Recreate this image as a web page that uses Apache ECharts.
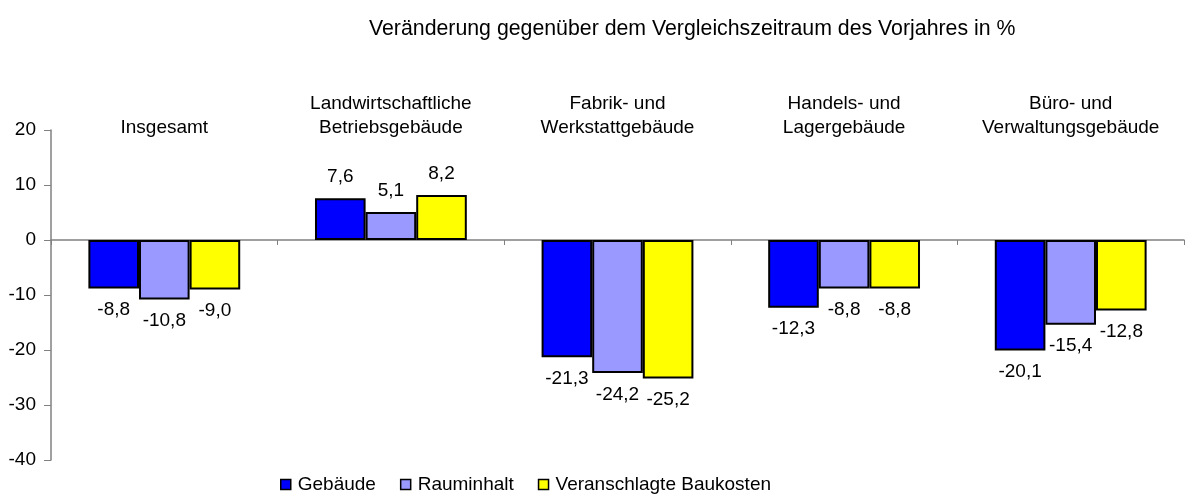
<!DOCTYPE html>
<html>
<head>
<meta charset="utf-8">
<script src="https://cdn.jsdelivr.net/npm/echarts@6/dist/echarts.min.js"></script>
<style>
  html, body { margin: 0; padding: 0; background: #fff; }
  #chart { width: 1186px; height: 496px; }
</style>
</head>
<body>
<div id="chart"></div>
<script>
// Kategorien (oben beschriftet)
const categories = [
  'Insgesamt',
  'Landwirtschaftliche\nBetriebsgebäude',
  'Fabrik- und\nWerkstattgebäude',
  'Handels- und\nLagergebäude',
  'Büro- und\nVerwaltungsgebäude'
];
const seriesNames = ['Gebäude', 'Rauminhalt', 'Veranschlagte Baukosten'];
const gebaeude = [-8.8, 7.6, -21.3, -12.3, -20.1];
const rauminhalt = [-10.8, 5.1, -24.2, -8.8, -15.4];
const baukosten = [-9.0, 8.2, -25.2, -8.8, -12.8];
const yTicks = [-40, -30, -20, -10, 0, 10, 20];

const font = 'Liberation Sans, Arial, sans-serif';
const colors = ['#0000ff', '#9999ff', '#ffff00'];

const chart = echarts.init(document.getElementById('chart'));

function makeSeries(name, data, color) {
  return {
    name: name,
    type: 'bar',
    xAxisIndex: 0,
    data: data,
    barGap: '0%',
    barCategoryGap: '33%',
    itemStyle: {
      color: color,
      borderColor: '#000',
      borderWidth: 2
    },
    label: {
      show: true,
      position: 'outside',
      distance: 12,
      fontFamily: font,
      fontSize: 19,
      color: '#000',
      formatter: function (p) {
        return p.value.toFixed(1).replace('.', ',');
      }
    }
  };
}

const option = {
  animation: false,
  backgroundColor: '#fff',
  title: {
    text: 'Veränderung gegenüber dem Vergleichszeitraum des Vorjahres in %',
    left: 364,
    top: 14,
    textStyle: {
      fontFamily: font,
      fontSize: 21.3,
      fontWeight: 'normal',
      color: '#000'
    }
  },
  legend: {
    data: seriesNames,
    left: 275,
    top: 470,
    itemWidth: 10,
    itemHeight: 10,
    itemGap: 24,
    icon: 'rect',
    itemStyle: { borderColor: '#000', borderWidth: 1.5 },
    textStyle: { fontFamily: font, fontSize: 19, color: '#000', padding: [0, 0, 0, 2] }
  },
  grid: {
    left: 51,
    right: 2,
    top: 130,
    bottom: 36,
    containLabel: false
  },
  xAxis: [
    {
      type: 'category',
      data: categories,
      axisLine: { onZero: true, lineStyle: { color: '#808080', width: 1.5 } },
      axisTick: { show: true, length: 5, lineStyle: { color: '#808080' } },
      axisLabel: { show: false }
    },
    {
      type: 'category',
      data: categories,
      position: 'top',
      axisLine: { show: false },
      axisTick: { show: false },
      axisLabel: {
        show: true,
        margin: -10,
        fontFamily: font,
        fontSize: 19,
        lineHeight: 24,
        color: '#000',
        interval: 0
      }
    }
  ],
  yAxis: {
    type: 'value',
    min: yTicks[0],
    max: yTicks[yTicks.length - 1],
    interval: 10,
    splitLine: { show: false },
    axisLine: { show: true, lineStyle: { color: '#808080', width: 1.5 } },
    axisTick: { show: true, length: 7, lineStyle: { color: '#808080' } },
    axisLabel: { fontFamily: font, fontSize: 19, color: '#000', margin: 15 }
  },
  series: [
    makeSeries(seriesNames[0], gebaeude, colors[0]),
    makeSeries(seriesNames[1], rauminhalt, colors[1]),
    makeSeries(seriesNames[2], baukosten, colors[2])
  ]
};

chart.setOption(option);
</script>
</body>
</html>
